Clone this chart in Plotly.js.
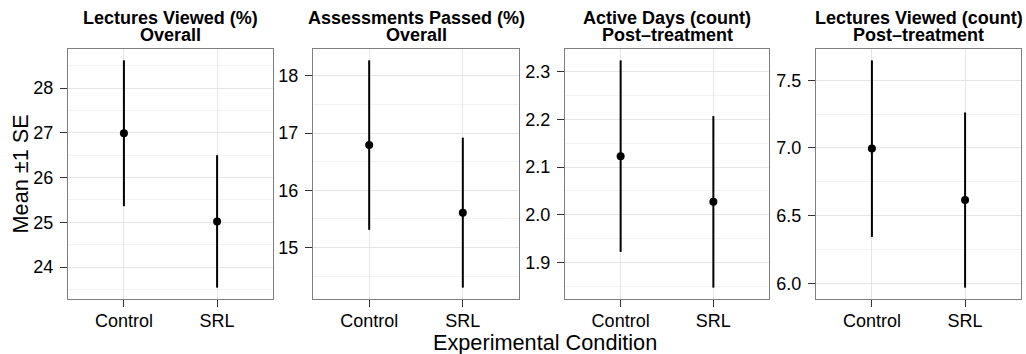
<!DOCTYPE html>
<html>
<head>
<meta charset="utf-8">
<script src="https://cdn.plot.ly/plotly-3.0.1.min.js"></script>
<style>html,body{margin:0;padding:0;background:#fff;}#chart{width:1026px;height:354px;}</style>
</head>
<body>
<div id="chart"></div>
<script>
// ---- data ----
const categories = ['Control', 'SRL'];

const titleLine1 = ['Lectures Viewed (%)', 'Assessments Passed (%)', 'Active Days (count)', 'Lectures Viewed (count)'];
const titleLine2 = ['Overall', 'Overall', 'Post\u2013treatment', 'Post\u2013treatment'];

const lecturesPctMean = [26.99, 25.02];
const lecturesPctSE   = [1.63, 1.48];

const assessPctMean = [16.79, 15.61];
const assessPctSE   = [1.48, 1.31];

const activeDaysMean = [2.123, 2.027];
const activeDaysSE   = [0.201, 0.180];

const lecturesCntMean = [6.995, 6.615];
const lecturesCntSE   = [0.652, 0.647];

const yDtick = [1, 1, 0.1, 0.5];
const yFormat = ['d', 'd', '.1f', '.1f'];

const xTitle = 'Experimental Condition';
const yTitle = 'Mean \u00b11 SE';

// ---- layout ----
const means = [lecturesPctMean, assessPctMean, activeDaysMean, lecturesCntMean];
const ses = [lecturesPctSE, assessPctSE, activeDaysSE, lecturesCntSE];

const W = 1026, H = 354;
const M = {l: 68, r: 5, t: 49, b: 55};
const pw = W - M.l - M.r, ph = H - M.t - M.b;
const panelPx = [[68, 273], [313, 519], [565, 769], [816, 1021]];
const domains = panelPx.map(p => [(p[0] - M.l) / pw, (p[1] - M.l) / pw]);

const FONT = 'Liberation Sans, Arial, Helvetica, sans-serif';

const traces = [];
const layout = {
  width: W, height: H,
  margin: M,
  paper_bgcolor: '#fff', plot_bgcolor: '#fff',
  showlegend: false,
  font: {family: FONT, color: '#000'},
  annotations: []
};

for (let i = 0; i < 4; i++) {
  const s = i === 0 ? '' : String(i + 1);
  const lo = Math.min(...means[i].map((m, j) => m - ses[i][j]));
  const hi = Math.max(...means[i].map((m, j) => m + ses[i][j]));
  const pad = (hi - lo) * 0.05;
  traces.push({
    type: 'scatter', mode: 'markers',
    x: categories, y: means[i],
    xaxis: 'x' + s, yaxis: 'y' + s,
    marker: {color: '#000', size: 8},
    error_y: {type: 'data', array: ses[i], symmetric: true, color: '#000', thickness: 2, width: 0},
    hoverinfo: 'skip'
  });
  layout['xaxis' + s] = {
    domain: domains[i], anchor: 'y' + s,
    type: 'category', range: [-0.6, 1.6],
    showgrid: true, gridcolor: '#e6e6e6', gridwidth: 1,
    showline: true, linecolor: '#7f7f7f', linewidth: 1, mirror: true,
    ticks: 'outside', ticklen: 7, tickwidth: 1, tickcolor: '#333',
    ticklabelstandoff: -2,
    tickfont: {size: 18, color: '#000', family: FONT},
    zeroline: false, fixedrange: true
  };
  layout['yaxis' + s] = {
    domain: [0, 1], anchor: 'x' + s,
    range: [lo - pad, hi + pad],
    dtick: yDtick[i], tick0: 0, tickformat: yFormat[i],
    showgrid: true, gridcolor: '#e6e6e6', gridwidth: 1,
    minor: {dtick: yDtick[i] / 2, showgrid: true, gridcolor: '#f3f3f3', gridwidth: 1, ticks: ''},
    showline: true, linecolor: '#7f7f7f', linewidth: 1, mirror: true,
    ticks: 'outside', ticklen: 7, tickwidth: 1, tickcolor: '#333',
    ticklabelstandoff: 3,
    tickfont: {size: 18, color: '#000', family: FONT},
    zeroline: false, fixedrange: true
  };
  const cx = (domains[i][0] + domains[i][1]) / 2;
  layout.annotations.push({
    xref: 'paper', yref: 'paper', x: cx, y: 1 + (M.t - 18) / ph,
    xanchor: 'center', yanchor: 'middle', showarrow: false,
    text: '<b>' + titleLine1[i] + '</b>', font: {size: 18, color: '#000', family: FONT}
  });
  layout.annotations.push({
    xref: 'paper', yref: 'paper', x: cx, y: 1 + (M.t - 35) / ph,
    xanchor: 'center', yanchor: 'middle', showarrow: false,
    text: '<b>' + titleLine2[i] + '</b>', font: {size: 18, color: '#000', family: FONT}
  });
}

layout.annotations.push({
  xref: 'paper', yref: 'paper', x: 0.5, y: -(342 - (M.t + ph)) / ph,
  xanchor: 'center', yanchor: 'middle', showarrow: false,
  text: xTitle, font: {size: 21.7, color: '#000', family: FONT}
});
layout.annotations.push({
  xref: 'paper', yref: 'paper', x: (19.5 - M.l) / pw, y: 0.5,
  xanchor: 'center', yanchor: 'middle', showarrow: false, textangle: -90,
  text: yTitle, font: {size: 21.7, color: '#000', family: FONT}
});

Plotly.newPlot('chart', traces, layout, {displayModeBar: false, staticPlot: true});
</script>
</body>
</html>
